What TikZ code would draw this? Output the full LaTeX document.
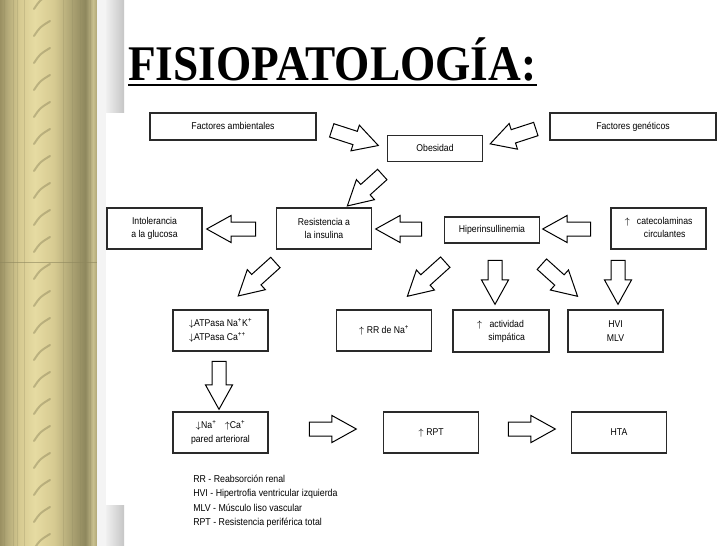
\documentclass[tikz,border=0pt]{standalone}
\usepackage{fontspec}
\setmainfont{Liberation Serif}
\newfontfamily\diagfont[FakeStretch=0.88]{Liberation Sans}
\usepackage{graphicx}
\usepackage{tikz}
\usetikzlibrary{shapes.arrows, calc}

\newlength{\pxl}
\setlength{\pxl}{0.75pt}

\definecolor{woodA}{HTML}{9A9062}
\definecolor{woodB}{HTML}{B5AB7A}
\definecolor{woodC}{HTML}{D6CA91}
\definecolor{woodD}{HTML}{E6DBA2}
\definecolor{woodE}{HTML}{B0A776}
\definecolor{woodF}{HTML}{8E875D}
\definecolor{woodG}{HTML}{C9C08F}
\definecolor{woodS}{HTML}{8A8258}
\definecolor{boxline}{HTML}{2A2A2A}

\pgfdeclarehorizontalshading{woodstrip}{100bp}{color(0bp)=(woodA); color(25bp)=(woodA);
  color(29bp)=(woodB); color(35bp)=(woodC); color(43bp)=(woodD); color(53bp)=(woodC);
  color(61bp)=(woodE); color(69bp)=(woodF); color(73bp)=(woodG); color(75bp)=(woodE);
  color(100bp)=(woodE)}

\begin{document}
\begin{tikzpicture}[
    x=0.75pt, y=-0.75pt,
    every node/.style={font=\diagfont\fontsize{7.4}{10}\selectfont},
    box/.style={rectangle, draw=boxline, line width=1.2\pxl, fill=white, align=center,
                inner sep=0pt, minimum width=95\pxl, minimum height=41\pxl},
    oneline/.style={text height=5.4pt, text depth=1.6pt},
    wide/.style={box, oneline, minimum width=166\pxl, minimum height=27\pxl},
    slim/.style={box, oneline, minimum height=26\pxl},
    barrow/.style={single arrow, draw=black, line width=1\pxl, fill=white,
                   inner xsep=0pt, inner ysep=6.5\pxl, single arrow head extend=6.5\pxl,
                   single arrow tip angle=58, minimum height=#1}
  ]
  \useasboundingbox (0,0) rectangle (728,546);
  \fill[white] (0,0) rectangle (728,546);

  % slide border
  \shade[shading=woodstrip] (0,0) rectangle (97,546);
  \foreach \x in {4,13,17,24,63,72,80,90}
    \draw[woodF, opacity=0.25, line width=0.6\pxl] (\x,0) -- (\x,546);
  \foreach \y in {-10,17,...,546}
    \draw[woodS, opacity=0.45, line width=2\pxl, line cap=round] (34,\y+19) .. controls (40,\y+10) .. (50,\y+4);
  \draw[woodF, opacity=0.6, line width=0.8\pxl] (0,262) -- (97,262);
  \fill[gray!9] (97,0) rectangle (106,546);
  \shade[left color=gray!12, right color=gray!45] (106,0) rectangle (124,112);
  \shade[left color=gray!12, right color=gray!45] (106,505) rectangle (124,546);

  % title
  \node[font=\rmfamily\bfseries\fontsize{34}{35}\selectfont, anchor=base west, inner sep=0pt]
    (title) at (128,80) {\scalebox{1}[1.1]{FISIOPATOLOGÍA:}};
  \draw[line width=2.4\pxl] ($(title.base west)+(0,5)$) -- ($(title.base east)+(0,5)$);

  % boxes
  \node[wide] (amb) at (233,126.5) {Factores ambientales};
  \node[slim] (obe) at (435,148.5) {Obesidad};
  \node[wide] (gen) at (633,126.5) {Factores genéticos};
  \node[box] (intol) at (154.5,228.5) {Intolerancia\\a la glucosa};
  \node[box] (resis) at (324,228.5) {Resistencia a\\la insulina};
  \node[slim] (hiper) at (492,230) {Hiperinsullinemia};
  \node[box] (catec) at (658.5,228.5)
    {\begin{tabular}{@{}l@{\hspace{7\pxl}}c@{}}$\uparrow$ & catecolaminas\\ & circulantes\end{tabular}};
  \node[box, align=left] (atp) at (220.5,330.5)
    {$\downarrow$ATPasa Na\textsuperscript{+}K\textsuperscript{+}\\$\downarrow$ATPasa Ca\textsuperscript{++}};
  \node[box, oneline] (rr) at (384,330.5) {$\uparrow$ RR de Na\textsuperscript{+}};
  \node[box, minimum width=96\pxl, minimum height=42\pxl] (activ) at (501,331)
    {\begin{tabular}{@{}l@{\hspace{6\pxl}}c@{}}$\uparrow$ & actividad\\ & simpática\end{tabular}};
  \node[box, minimum height=42\pxl] (hvi) at (615.5,331) {HVI\\MLV};
  \node[box] (pared) at (220.5,432.5)
    {$\downarrow$Na\textsuperscript{+}\hspace{8\pxl}$\uparrow$Ca\textsuperscript{+}\\pared arterioral};
  \node[box, oneline] (rpt) at (431,432.5) {$\uparrow$ RPT};
  \node[box, oneline] (hta) at (619,432.5) {HTA};

  % block arrows
  \node[barrow=49\pxl, rotate=-18] (amb-obe) at (349,136) {};
  \node[barrow=48\pxl, rotate=198] (gen-obe) at (519,134.5) {};
  \node[barrow=47\pxl, rotate=222] (obe-resis) at (369.5,186) {};
  \node[barrow=49\pxl, rotate=180] (resis-intol) at (237.5,229) {};
  \node[barrow=46\pxl, rotate=180] (hiper-resis) at (405,229) {};
  \node[barrow=48\pxl, rotate=180] (catec-hiper) at (573,229) {};
  \node[barrow=50\pxl, rotate=222] (resis-atp) at (261.5,275) {};
  \node[barrow=51\pxl, rotate=222] (hiper-rr) at (431,275) {};
  \node[barrow=44\pxl, rotate=-90] (hiper-activ) at (495,276) {};
  \node[barrow=48\pxl, rotate=-42] (hiper-hvi) at (555,276) {};
  \node[barrow=44\pxl, rotate=-90] (catec-hvi) at (618,276) {};
  \node[barrow=48\pxl, rotate=-90] (atp-pared) at (219,379) {};
  \node[barrow=47\pxl] (pared-rpt) at (326.5,429) {};
  \node[barrow=47\pxl] (rpt-hta) at (525.5,429) {};

  % legend
  \node[anchor=north west, align=left, inner sep=0pt, font=\diagfont\fontsize{7.5}{10.9}\selectfont]
    (legend) at (193,474.5)
    {RR - Reabsorción renal\\HVI - Hipertrofia ventricular izquierda\\
     MLV - Músculo liso vascular\\RPT - Resistencia periférica total};
\end{tikzpicture}
\end{document}
